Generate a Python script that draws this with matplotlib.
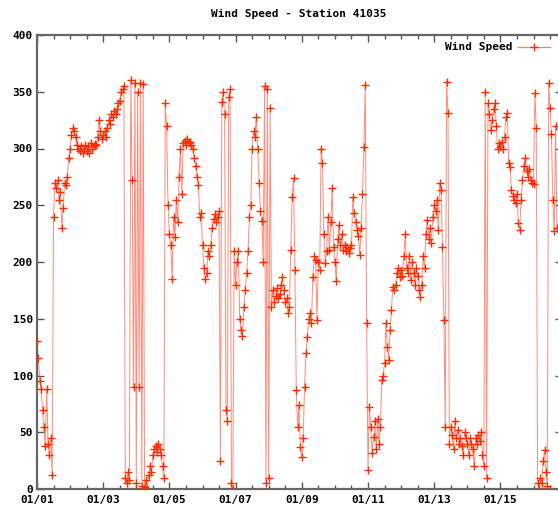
import numpy as np
import matplotlib
matplotlib.use("Agg")
import matplotlib.pyplot as plt
from matplotlib.ticker import MultipleLocator

# ------------------------
# Data: hourly wind readings (one row per day)
# ------------------------
day_01 = [130, 115, 95, 88, 70, 55, 38, 88, 40, 30, 45, 12,
          240, 270, 265, 272, 255, 262, 230, 248, 270, 268, 275, 292]
day_02 = [300, 312, 318, 315, 310, 303, 300, 298, 302, 296, 300, 303,
          298, 302, 296, 305, 300, 302, 304, 303, 310, 325, 315, 308]
day_03 = [312, 315, 310, 318, 325, 322, 330, 328, 333, 330, 335, 340,
          342, 350, 352, 355, 10, 5, 15, 8, 360, 272, 90, 358]
day_04 = [5, 350, 90, 358, 3, 357, 2, 8, 0, 12, 20, 15,
          30, 35, 38, 33, 40, 35, 30, 20, 10, 340, 320, 250]
day_05 = [225, 215, 185, 240, 222, 255, 235, 275, 300, 260, 305, 307,
          303, 308, 305, 306, 303, 300, 292, 285, 275, 268, 240, 243]
day_06 = [215, 195, 185, 190, 210, 205, 215, 230, 238, 242, 235, 240,
          245, 25, 341, 350, 330, 70, 60, 345, 352, 5, 0, 210]
day_07 = [180, 200, 210, 150, 140, 135, 160, 175, 190, 210, 240, 250,
          300, 315, 310, 328, 300, 270, 245, 236, 200, 355, 5, 352]
day_08 = [10, 336, 160, 175, 165, 170, 177, 168, 172, 180, 187, 175,
          165, 168, 155, 160, 211, 257, 274, 193, 87, 55, 74, 37]
day_09 = [28, 45, 90, 120, 134, 150, 155, 146, 187, 205, 202, 149,
          200, 193, 300, 287, 225, 199, 210, 240, 211, 235, 265, 213]
day_10 = [200, 183, 220, 233, 215, 225, 211, 215, 210, 213, 208, 212,
          215, 257, 243, 235, 228, 223, 206, 230, 260, 301, 356, 146]
day_11 = [17, 72, 55, 32, 46, 60, 35, 62, 40, 55, 96, 100,
          111, 146, 125, 114, 140, 158, 178, 175, 180, 190, 195, 187]
day_12 = [193, 188, 205, 225, 195, 190, 205, 184, 200, 190, 180, 195,
          188, 175, 169, 180, 205, 195, 225, 237, 220, 230, 217, 240]
day_13 = [250, 245, 255, 228, 270, 263, 213, 149, 55, 359, 331, 40,
          55, 48, 35, 60, 45, 52, 40, 45, 38, 30, 50, 45]
day_14 = [40, 30, 45, 40, 35, 20, 45, 40, 48, 42, 50, 30,
          20, 350, 10, 340, 330, 316, 325, 335, 340, 320, 300, 305]
day_15 = [301, 306, 300, 310, 328, 331, 287, 284, 263, 258, 255, 252,
          260, 234, 228, 255, 272, 285, 292, 280, 275, 282, 272, 270]
day_16 = [269, 349, 318, 5, 0, 10, 5, 25, 34, 15, 3, 358,
          336, 313, 255, 227, 320, 230]

wind = np.array(day_01 + day_02 + day_03 + day_04 + day_05 + day_06 + day_07
                + day_08 + day_09 + day_10 + day_11 + day_12 + day_13
                + day_14 + day_15 + day_16, dtype=float)
hours = np.arange(len(wind))

tick_hours = [0, 48, 96, 144, 192, 240, 288, 336]
tick_labels = ["01/01", "01/03", "01/05", "01/07", "01/09", "01/11", "01/13", "01/15"]
y_ticks = [0, 50, 100, 150, 200, 250, 300, 350, 400]

# ------------------------
# Plot (gnuplot look)
# ------------------------
font = {"family": "DejaVu Sans Mono", "weight": "bold", "size": 8}
line_col = "#ff5a40"
mark_col = "#ff2a00"

fig = plt.figure(figsize=(5.58, 5.14), dpi=100)
W, H = 558, 514
x0, x1 = 37, 562
y0, y1 = 489, 35
ax = fig.add_axes([x0 / W, (H - y0) / H, (x1 - x0) / W, (y0 - y1) / H])

ax.plot(hours, wind, color=line_col, linewidth=0.7, alpha=0.7, zorder=2)
ax.plot(hours, wind, linestyle="none", marker="+", markersize=6,
        markeredgewidth=1.0, color=mark_col, zorder=3)

# key drawn like gnuplot's: text, then line sample with a marker
key_y = 0.974
ax.text(0.905, key_y, "Wind Speed", transform=ax.transAxes, ha="right",
        va="center", **font)
ax.plot([0.916, 0.977], [key_y, key_y], transform=ax.transAxes,
        color=line_col, linewidth=0.9, alpha=0.8, clip_on=False)
ax.plot([0.947], [key_y], transform=ax.transAxes, marker="+",
        markersize=6, markeredgewidth=1.0, color=mark_col, clip_on=False)

ax.set_xlim(0, (x1 - x0) / (33.1 / 24))
ax.set_ylim(0, 400)
ax.set_xticks(tick_hours)
ax.set_xticklabels(tick_labels, **font)
ax.set_yticks(y_ticks)
ax.set_yticklabels([str(v) for v in y_ticks], **font)
ax.xaxis.set_minor_locator(MultipleLocator(12))

ax.tick_params(axis="both", which="major", direction="in", length=5,
               width=1, color="#555555", top=True, right=True, pad=4)
ax.tick_params(axis="x", which="minor", direction="in", length=3,
               width=1, color="#555555", top=True)
ax.tick_params(axis="y", pad=3)
for side in ["left", "bottom", "top", "right"]:
    ax.spines[side].set_color("#666666")
    ax.spines[side].set_linewidth(1.6)

fig.text(0.535, 1 - 14 / H, "Wind Speed - Station 41035", ha="center",
         va="center", **font)

fig.savefig("out.png", dpi=100)
